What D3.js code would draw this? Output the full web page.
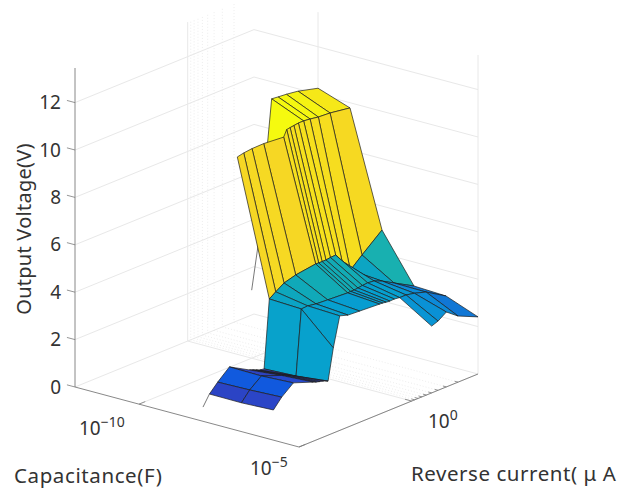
<!DOCTYPE html>
<html>
<head>
<meta charset="utf-8">
<script src="https://cdnjs.cloudflare.com/ajax/libs/d3/7.8.5/d3.min.js"></script>
<style>
  html, body { margin: 0; padding: 0; background: #fff; }
  text { font-family: "Noto Sans", sans-serif; fill: #333; }
</style>
</head>
<body>
<div id="chart"></div>
<script>
// Reverse current (uA), one entry per surface column
var currents = [40, 30, 20, 10, 9, 8, 7, 6, 5, 4, 3, 2, 1, 0.9, 0.8, 0.7, 0.6, 0.5, 0.4, 0.3, 0.2, 0.1];

// Capacitance (F), one entry per surface row
var capacitances = [1e-10, 1e-9, 1e-8, 1e-7, 1e-6, 1e-5];

// Output voltage (V) for each capacitance, null where nothing was measured
var voltsAt1e10 = [null, null, null, null, null, null, null, null, null, null, null, null, null, null, 4.66, null, null, 10.6, 10.57, 10.54, 10.47, 10.25];
var voltsAt1e9 = [null, null, null, null, null, null, null, null, 9.65, 9.71, 9.75, 9.76, 9.69, 9.96, 9.98, 10.0, 10.03, 10.03, 10.0, 9.94, 9.91, 9.78];
var voltsAt1e8 = [1.04, 1.40, 1.84, 1.37, 1.32, 1.26, 1.19, 1.16, 4.02, 4.21, 4.44, 4.58, 4.70, 4.69, 4.69, 4.69, 4.72, 4.73, 4.37, 3.84, 4.28, 4.99];
var voltsAt1e7 = [1.03, 1.43, 1.82, 1.50, 1.45, 1.39, 1.32, 1.22, 3.96, 3.98, 3.92, 3.89, 3.84, 3.85, 3.85, 3.87, 3.90, 3.92, 3.89, 3.74, 3.46, 2.99];
var voltsAt1e6 = [1.09, 1.49, 1.89, 1.58, 1.53, 1.49, 1.45, 1.37, 2.68, 3.92, 3.81, 3.78, 3.73, 3.72, 3.70, 3.68, 3.69, 3.66, 3.66, 3.59, 3.44, 2.93];
var voltsAt1e5 = [null, null, null, null, null, null, null, null, null, null, null, null, null, null, null, null, null, 2.82, 2.92, 3.16, 2.79, 2.41];
var voltRows = [voltsAt1e10, voltsAt1e9, voltsAt1e8, voltsAt1e7, voltsAt1e6, voltsAt1e5];

// Loose mesh edges that have no face next to them
var looseCapacitance = [1e-8, 1e-10];
var looseCurrents = [[50, 40], [1, 0.8]];
var looseVolts = [[0.6, 1.04], [2.87, 4.66]];

// Axis ticks
var zTicks = [0, 2, 4, 6, 8, 10, 12];
var capTicks = [1e-10, 1e-5];
var currentMajor = [1];
var currentMinor = [0.9, 0.8, 0.7, 0.6, 0.5, 0.4, 0.3, 0.2];

// Colours, by voltage
var colorVolts = [0.6, 1.43, 1.82, 2.93, 3.44, 3.9, 4.7, 5, 9.7, 10.25, 10.6];
var colorHex = ["#352a87", "#2b45c7", "#1159de", "#1177d5", "#0c8ad8", "#06a0cf", "#12abb5", "#18b0b0", "#f6d724", "#f6e818", "#f5fa0f"];

var svgWidth = 629;
var svgHeight = 489;

var svg = d3.select("#chart")
  .append("svg")
  .attr("width", svgWidth)
  .attr("height", svgHeight)
  .style("display", "block");

// Scales give 0..1 along the box edges, z goes straight to pixels
var capScale = d3.scaleLog().domain([1e-12, 1e-5]).range([0, 1]);
var currentScale = d3.scaleLog().domain([50, 0.1]).range([0, 1]);
var zMax = 13.46;
var zScale = d3.scaleLinear().domain([0, zMax]).range([0, 319]);
var colorScale = d3.scaleLinear().domain(colorVolts).range(colorHex);

// Orthographic view of the box
var origin = [75, 387];
var uStep = [224, 60];
var vStep = [179, -73];

function project(u, v, z) {
  return [
    origin[0] + u * uStep[0] + v * vStep[0],
    origin[1] + u * uStep[1] + v * vStep[1] - zScale(z)
  ];
}

var line = d3.line();

function drawPath(points, color, width, dash) {
  return svg.append("path")
    .attr("d", line(points))
    .attr("fill", "none")
    .attr("stroke", color)
    .attr("stroke-width", width)
    .attr("stroke-dasharray", dash || null);
}

// Walls and floor grid
var gridColor = "#e8e8e8";
var minorColor = "#e8e8e8";

zTicks.forEach(function(z) {
  drawPath([project(0, 0, z), project(0, 1, z), project(1, 1, z)], gridColor, 1);
});

capTicks.forEach(function(c) {
  var u = capScale(c);
  drawPath([project(u, 0, 0), project(u, 1, 0), project(u, 1, zMax)], gridColor, 1);
});

currentMajor.forEach(function(i) {
  var v = currentScale(i);
  drawPath([project(1, v, 0), project(0, v, 0), project(0, v, zMax)], gridColor, 1);
});

currentMinor.forEach(function(i) {
  var v = currentScale(i);
  drawPath([project(1, v, 0), project(0, v, 0), project(0, v, zMax)], minorColor, 0.8, "1,2");
});

// Edges of the box that carry the axes
var axisColor = "#7a7a7a";
drawPath([project(0, 0, zMax), project(0, 0, 0), project(1, 0, 0), project(1, 1, 0)], axisColor, 0.9);

// Ticks point away from the floor along the capacitance direction
function tick(u, v, z, fraction) {
  drawPath([project(u, v, z), project(u - fraction, v, z)], axisColor, 0.8);
}

zTicks.forEach(function(z) { tick(0, 0, z, 0.036); });
currentMajor.forEach(function(i) { tick(1, currentScale(i), 0, 0.03); });
currentMinor.forEach(function(i) { tick(1, currentScale(i), 0, 0.015); });
capTicks.forEach(function(c) {
  var u = capScale(c);
  drawPath([project(u, 0, 0), project(u, 0.035, 0)], axisColor, 0.8);
});

// Loose mesh edges
var meshColor = "#1c1c1c";
looseCapacitance.forEach(function(c, k) {
  var u = capScale(c);
  var pts = looseCurrents[k].map(function(i, n) {
    return project(u, currentScale(i), looseVolts[k][n]);
  });
  drawPath(pts, "#555", 0.8);
});

// Surface faces, back to front: rows by rising capacitance, columns by falling v
function vertex(r, j) {
  return project(capScale(capacitances[r]), currentScale(currents[j]), voltRows[r][j]);
}

d3.range(capacitances.length - 1).forEach(function(r) {
  var near = voltRows[r + 1];
  var far = voltRows[r];
  var valid = d3.range(currents.length).filter(function(j) { return far[j] !== null; });
  for (var k = valid.length - 1; k > 0; k--) {
    var hi = valid[k];
    var lo = valid[k - 1];
    var span = d3.range(lo, hi + 1);
    if (!span.every(function(j) { return near[j] !== null; })) continue;
    // A face runs across any gap in the far row, along the whole near row
    var pts = [vertex(r, lo), vertex(r, hi)];
    span.slice().reverse().forEach(function(j) { pts.push(vertex(r + 1, j)); });
    svg.append("path")
      .attr("d", line(pts) + "Z")
      .attr("fill", colorScale(far[hi]))
      .attr("stroke", meshColor)
      .attr("stroke-width", 0.7)
      .attr("stroke-linejoin", "round");
  }
});

// Tick labels
function powerLabel(x, y, exponent) {
  var t = svg.append("text")
    .attr("x", x)
    .attr("y", y)
    .attr("font-size", 19);
  t.append("tspan").text("10");
  t.append("tspan")
    .attr("font-size", 14)
    .attr("dy", -8)
    .text(exponent);
}

zTicks.forEach(function(z) {
  svg.append("text")
    .attr("x", 61)
    .attr("y", project(0, 0, z)[1] - 0.5)
    .attr("text-anchor", "end")
    .attr("dominant-baseline", "central")
    .attr("font-size", 19)
    .text(z);
});

powerLabel(79, 435, "\u221210");
powerLabel(250, 475, "\u22125");
powerLabel(428, 428, "0");

// Axis titles
svg.append("text")
  .attr("transform", "translate(31, 229) rotate(-90)")
  .attr("text-anchor", "middle")
  .attr("font-size", 20)
  .attr("letter-spacing", 0.25)
  .text("Output Voltage(V)");

svg.append("text")
  .attr("x", 14)
  .attr("y", 483)
  .attr("font-size", 20.5)
  .attr("letter-spacing", 0.6)
  .text("Capacitance(F)");

svg.append("text")
  .attr("x", 411)
  .attr("y", 481)
  .attr("font-size", 20.5)
  .attr("letter-spacing", 0.55)
  .text("Reverse current( \u03bc A");
</script>
</body>
</html>
